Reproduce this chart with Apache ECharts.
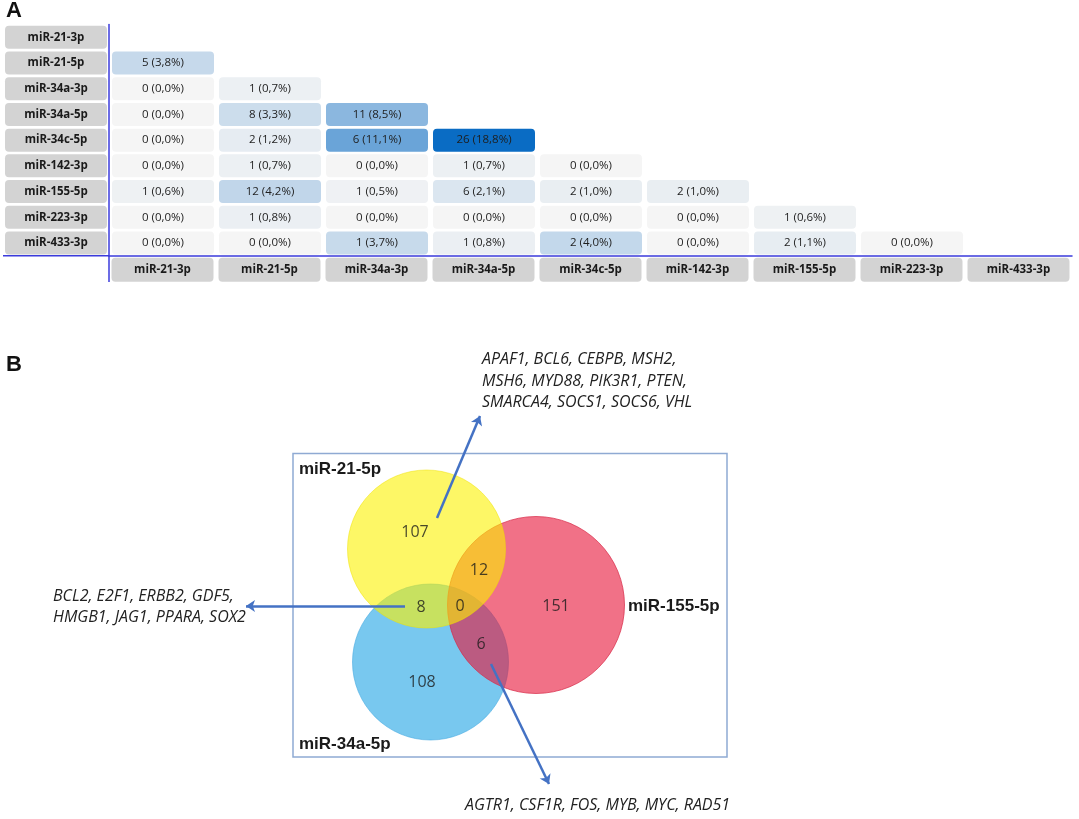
<!DOCTYPE html>
<html>
<head>
<meta charset="utf-8">
<title>miRNA target overlap</title>
<script src="https://cdn.jsdelivr.net/npm/echarts@6/dist/echarts.min.js"></script>
<style>
  html, body { margin: 0; padding: 0; background: #fff; }
  #main { width: 1079px; height: 819px; }
</style>
</head>
<body>
<div id="main"></div>
<script>
// ---- data ----
var mirnas = ['miR-21-3p', 'miR-21-5p', 'miR-34a-3p', 'miR-34a-5p', 'miR-34c-5p',
              'miR-142-3p', 'miR-155-5p', 'miR-223-3p', 'miR-433-3p'];

// lower triangle: row i holds columns 0 .. i-1
var sharedCounts = [
    [],
    [5],
    [0, 1],
    [0, 8, 11],
    [0, 2, 6, 26],
    [0, 1, 0, 1, 0],
    [1, 12, 1, 6, 2, 2],
    [0, 1, 0, 0, 0, 0, 1],
    [0, 0, 1, 1, 2, 0, 2, 0]
];
var sharedPercents = [
    [],
    [3.8],
    [0.0, 0.7],
    [0.0, 3.3, 8.5],
    [0.0, 1.2, 11.1, 18.8],
    [0.0, 0.7, 0.0, 0.7, 0.0],
    [0.6, 4.2, 0.5, 2.1, 1.0, 1.0],
    [0.0, 0.8, 0.0, 0.0, 0.0, 0.0, 0.6],
    [0.0, 0.0, 3.7, 0.8, 4.0, 0.0, 1.1, 0.0]
];

var vennSets = ['miR-21-5p', 'miR-155-5p', 'miR-34a-5p'];
// 21-5p only, 155-5p only, 34a-5p only, 21&155, 21&34a, 155&34a, all three
var vennCounts = [107, 151, 108, 12, 8, 6, 0];

var genes21and155 = ['APAF1', 'BCL6', 'CEBPB', 'MSH2', 'MSH6', 'MYD88', 'PIK3R1', 'PTEN',
                     'SMARCA4', 'SOCS1', 'SOCS6', 'VHL'];
var genes21and34a = ['BCL2', 'E2F1', 'ERBB2', 'GDF5', 'HMGB1', 'JAG1', 'PPARA', 'SOX2'];
var genes155and34a = ['AGTR1', 'CSF1R', 'FOS', 'MYB', 'MYC', 'RAD51'];

// ---- layout (pixels) ----
var axisBlue = '#3b3bdc';
var arrowBlue = '#4472c4';
var gridA = { left: 109, top: 24.5, width: 963, height: 231.3 };
var axisY = gridA.top + gridA.height;

// circles, drawn bottom to top: 34a-5p, 155-5p, 21-5p
var circles = [
    { set: 2, cx: 430.5, cy: 662, r: 78, fill: '#78c8ef', stroke: 'rgba(70,170,225,0.6)' },
    { set: 1, cx: 536, cy: 605, r: 88.5, fill: 'rgba(232,18,55,0.6)', stroke: 'rgba(215,40,70,0.7)' },
    { set: 0, cx: 426.5, cy: 549, r: 79, fill: 'rgba(252,242,0,0.6)', stroke: 'rgba(240,225,0,0.5)' }
];
var regionSpots = [[415, 532], [556, 606], [422, 682], [479, 570], [421, 607], [481, 644], [460, 606]];
var setLabelSpots = [[299, 469], [628, 606], [299, 744]];
var arrows = [
    { from: [437, 518], to: [480, 416] },
    { from: [405, 606], to: [246, 606] },
    { from: [491, 664], to: [549, 784] }
];

function pctText(v) {
    return v.toFixed(1).replace('.', ',') + '%';
}

function joinLines(list, perLine) {
    var lines = [];
    for (var i = 0; i < list.length; i += perLine) {
        var chunk = list.slice(i, i + perLine).join(', ');
        lines.push(i + perLine < list.length ? chunk + ',' : chunk);
    }
    return lines.join('\n');
}

var cellData = [];
var maxPct = 0;
for (var i = 0; i < mirnas.length; i++) {
    for (var j = 0; j < sharedCounts[i].length; j++) {
        cellData.push([j, i, sharedCounts[i][j], sharedPercents[i][j]]);
        maxPct = Math.max(maxPct, sharedPercents[i][j]);
    }
}

var circleData = circles.map(function (c, k) { return [c.cx, c.cy, c.r, k]; });
var regionData = regionSpots.map(function (p, k) { return [p[0], p[1], vennCounts[k]]; });

var labelBox = function (w, h) {
    return {
        formatter: function (v) { return '{b|' + v + '}'; },
        rich: {
            b: {
                width: w, height: h, lineHeight: h, align: 'center',
                backgroundColor: '#d3d3d3', borderRadius: 4,
                fontFamily: 'Open Sans', fontWeight: 'bold', fontSize: 11.5, color: '#1a1a1a'
            }
        }
    };
};

var myChart = echarts.init(document.getElementById('main'));
var yLabel = labelBox(102, 23);
yLabel.margin = 2;
yLabel.interval = 0;
var xLabel = labelBox(102, 24);
xLabel.margin = 2;
xLabel.interval = 0;

var option = {
    animation: false,
    backgroundColor: '#fff',
    grid: [
        gridA,
        { left: 0, top: 0, width: 1079, height: 819 }
    ],
    xAxis: [
        {
            gridIndex: 0, type: 'category', data: mirnas, position: 'bottom',
            axisLine: { show: true, lineStyle: { color: axisBlue, width: 1.5 } },
            axisTick: { show: false }, splitLine: { show: false },
            axisLabel: xLabel
        },
        { gridIndex: 1, type: 'value', min: 0, max: 1079, show: false }
    ],
    yAxis: [
        {
            gridIndex: 0, type: 'category', data: mirnas, inverse: true,
            axisLine: { show: true, lineStyle: { color: axisBlue, width: 1.5 } },
            axisTick: { show: false }, splitLine: { show: false },
            axisLabel: yLabel
        },
        { gridIndex: 1, type: 'value', min: 0, max: 819, inverse: true, show: false }
    ],
    visualMap: {
        show: false, type: 'continuous', seriesIndex: 0, dimension: 3,
        min: 0, max: maxPct,
        inRange: { color: ['#f5f5f5', '#0a6cc4'] }
    },
    series: [
        {
            type: 'custom',
            xAxisIndex: 0, yAxisIndex: 0,
            data: cellData,
            renderItem: function (params, api) {
                var c = api.coord([api.value(0), api.value(1)]);
                var band = api.size([1, 1]);
                var w = band[0] - 5, h = band[1] - 2.7;
                return {
                    type: 'rect',
                    shape: { x: c[0] - w / 2 + 0.5, y: c[1] - h / 2, width: w, height: h, r: 4 },
                    style: { fill: api.visual('color') },
                    textContent: {
                        style: {
                            text: api.value(2) + ' (' + pctText(api.value(3)) + ')',
                            fill: '#1e1e1e', fontSize: 11.5, fontFamily: 'Open Sans'
                        }
                    },
                    textConfig: { position: 'inside' }
                };
            }
        },
        {
            type: 'custom',
            xAxisIndex: 1, yAxisIndex: 1,
            data: circleData,
            silent: true,
            renderItem: function (params, api) {
                var c = api.coord([api.value(0), api.value(1)]);
                var r = api.size([api.value(2), 0])[0];
                var st = circles[api.value(3)];
                return {
                    type: 'circle',
                    shape: { cx: c[0], cy: c[1], r: r },
                    style: { fill: st.fill, stroke: st.stroke, lineWidth: 1 }
                };
            }
        },
        {
            type: 'scatter',
            xAxisIndex: 1, yAxisIndex: 1,
            data: regionData,
            symbolSize: 1,
            itemStyle: { color: 'rgba(0,0,0,0)' },
            silent: true,
            label: {
                show: true, position: 'inside',
                formatter: function (p) { return p.value[2]; },
                fontFamily: 'Open Sans', fontSize: 16, color: '#1a1a1a'
            }
        },
        {
            type: 'lines',
            coordinateSystem: 'cartesian2d',
            xAxisIndex: 1, yAxisIndex: 1,
            silent: true,
            clip: false,
            symbol: ['none', 'arrow'],
            symbolSize: 9,
            lineStyle: { color: arrowBlue, width: 2.5, opacity: 1 },
            data: arrows.map(function (a) { return { coords: [a.from, a.to] }; })
        }
    ],
    graphic: [
        // extensions of the table axes
        { type: 'line', shape: { x1: 3, y1: axisY, x2: gridA.left, y2: axisY },
          style: { stroke: axisBlue, lineWidth: 1.5 } },
        { type: 'line', shape: { x1: gridA.left, y1: axisY, x2: gridA.left, y2: 282 },
          style: { stroke: axisBlue, lineWidth: 1.5 } },
        { type: 'text', left: 6, top: 0,
          style: { text: 'A', font: 'bold 22px "Liberation Sans"', fill: '#111' } },
        { type: 'text', left: 6, top: 354,
          style: { text: 'B', font: 'bold 22px "Liberation Sans"', fill: '#111' } },
        { type: 'rect', shape: { x: 293, y: 453.5, width: 434, height: 303.5 },
          style: { fill: 'none', stroke: '#8faad3', lineWidth: 1.5 } },
        { type: 'text', x: setLabelSpots[0][0], y: setLabelSpots[0][1],
          style: { text: vennSets[0], font: 'bold 17px "Liberation Sans"', fill: '#1a1a1a', verticalAlign: 'middle' } },
        { type: 'text', x: setLabelSpots[1][0], y: setLabelSpots[1][1],
          style: { text: vennSets[1], font: 'bold 17px "Liberation Sans"', fill: '#1a1a1a', verticalAlign: 'middle' } },
        { type: 'text', x: setLabelSpots[2][0], y: setLabelSpots[2][1],
          style: { text: vennSets[2], font: 'bold 17px "Liberation Sans"', fill: '#1a1a1a', verticalAlign: 'middle' } },
        { type: 'text', x: 482, y: 349,
          style: { text: joinLines(genes21and155, 4), font: 'italic 16px "Open Sans"', lineHeight: 21.5, fill: '#222' } },
        { type: 'text', x: 53, y: 586,
          style: { text: joinLines(genes21and34a, 4), font: 'italic 16px "Open Sans"', lineHeight: 21, fill: '#222' } },
        { type: 'text', x: 465, y: 795,
          style: { text: joinLines(genes155and34a, 6), font: 'italic 16px "Open Sans"', lineHeight: 21, fill: '#222' } }
    ]
};

myChart.setOption(option);
window.addEventListener('resize', function () {
    myChart.resize();
});
</script>
</body>
</html>
